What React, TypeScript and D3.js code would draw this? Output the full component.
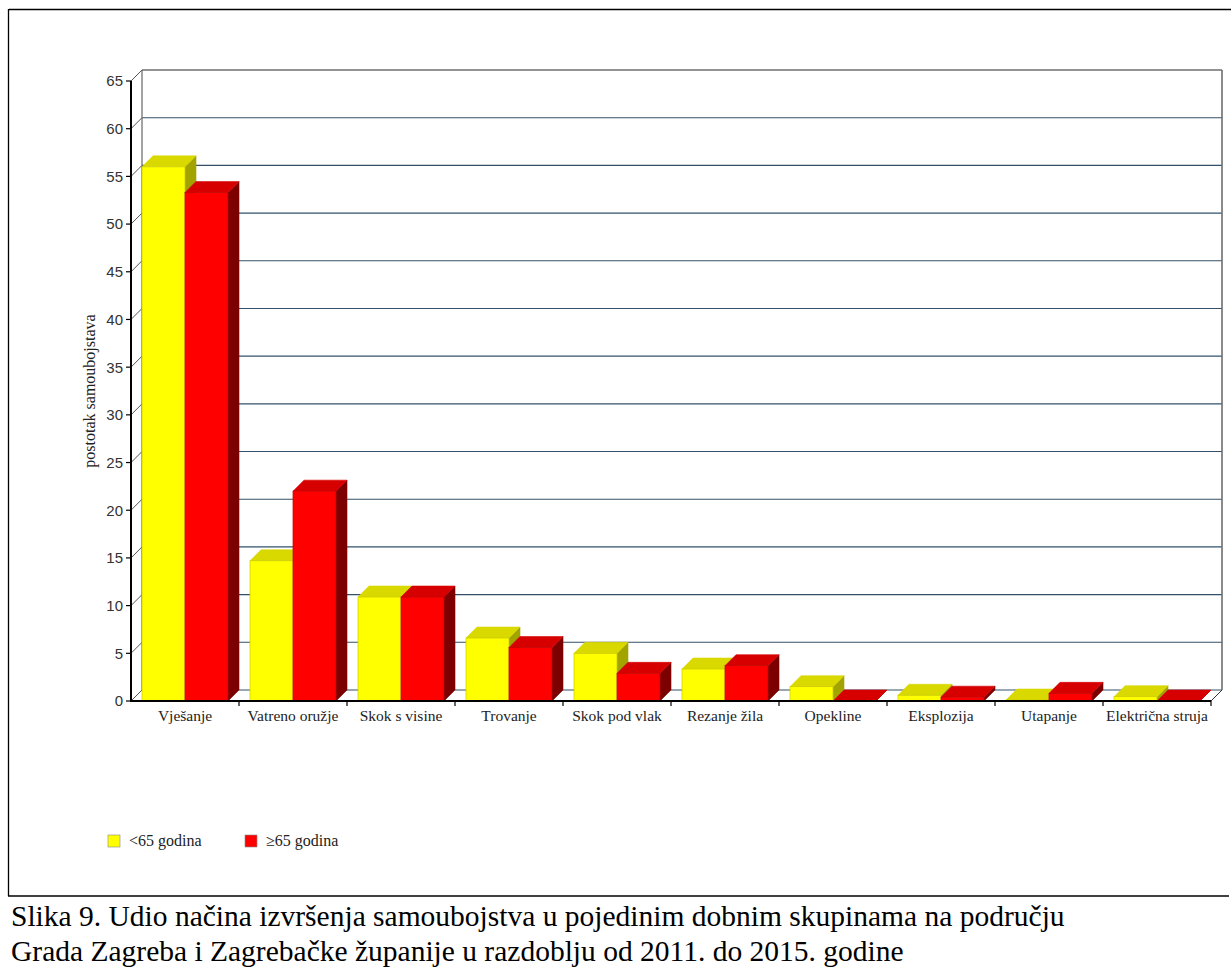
import React from "react";
import * as d3 from "d3";

const categories = [
  "Vješanje",
  "Vatreno oružje",
  "Skok s visine",
  "Trovanje",
  "Skok pod vlak",
  "Rezanje žila",
  "Opekline",
  "Eksplozija",
  "Utapanje",
  "Električna struja",
];
const seriesNames = ["<65 godina", "≥65 godina"];
const under65 = [56.0, 14.7, 10.9, 6.6, 5.0, 3.35, 1.5, 0.6, 0.1, 0.45];
const over65 = [53.3, 22.0, 10.9, 5.6, 2.9, 3.7, 0, 0.4, 0.8, 0];
const yTicks = [0, 5, 10, 15, 20, 25, 30, 35, 40, 45, 50, 55, 60, 65];
const yTitle = "postotak samoubojstava";
const captionLines = [
  "Slika 9. Udio načina izvršenja samoubojstva u pojedinim dobnim skupinama na području",
  "Grada Zagreba i Zagrebačke županije u razdoblju od 2011. do 2015. godine",
];

const W = 1231;
const H = 967;
const DX = 11;
const DY = -11;

const palettes = [
  { front: "#FFFF00", top: "#D9D900", side: "#A3A300", stroke: "#C8C800" },
  { front: "#FF0000", top: "#D60000", side: "#7D0000", stroke: "#C00000" },
];

export default function App() {
  const x = d3.scaleBand<string>().domain(categories).range([131, 1211]).paddingInner(0).paddingOuter(0);
  const sub = d3.scaleBand<string>().domain(seriesNames).range([11, 97]).paddingInner(0).paddingOuter(0);
  const y = d3.scaleLinear().domain([0, 65]).range([701, 81]);
  const xl = x.range()[0];
  const xr = x.range()[1];
  const data = [under65, over65];

  const bars: React.ReactNode[] = [];
  categories.forEach((c, i) => {
    seriesNames.forEach((s, si) => {
      const v = data[si][i];
      const p = palettes[si];
      const x0 = (x(c) as number) + (sub(s) as number);
      const x1 = x0 + sub.bandwidth();
      const yt = y(v);
      const yb = y(0);
      const top = `M${x0},${yt} L${x0 + DX},${yt + DY} L${x1 + DX},${yt + DY} L${x1},${yt} Z`;
      const side = `M${x1},${yt} L${x1 + DX},${yt + DY} L${x1 + DX},${yb + DY} L${x1},${yb} Z`;
      bars.push(
        <g key={`${c}-${s}`}>
          <path d={side} fill={p.side} stroke={p.side} strokeWidth={0.6} />
          <path d={top} fill={p.top} stroke={p.top} strokeWidth={0.6} />
          {v > 0 && (
            <rect x={x0} y={yt} width={x1 - x0} height={yb - yt} fill={p.front} stroke={p.stroke} strokeWidth={0.7} />
          )}
        </g>
      );
    });
  });

  return (
    <svg
      width={W}
      height={H}
      viewBox={`0 0 ${W} ${H}`}
      style={{ position: "absolute", left: 0, top: 0, background: "#fff" }}
    >
      <rect x={0} y={0} width={W} height={H} fill="#fff" />
      {/* outer frame */}
      <line x1={9} y1={9.5} x2={W} y2={9.5} stroke="#000" strokeWidth={1.3} />
      <line x1={8.5} y1={9} x2={8.5} y2={896} stroke="#000" strokeWidth={1.3} />
      <line x1={8} y1={896} x2={1229} y2={896} stroke="#000" strokeWidth={1.5} />

      {/* back wall gridlines */}
      {yTicks.map((t) => (
        <g key={`g${t}`}>
          <line
            x1={xl + DX}
            y1={y(t) + DY}
            x2={xr + DX}
            y2={y(t) + DY}
            stroke={t === 65 ? "#6e6e6e" : "#33506a"}
            strokeWidth={t === 65 ? 1.6 : 1.1}
          />
          <line x1={xl} y1={y(t)} x2={xl + DX} y2={y(t) + DY} stroke="#555" strokeWidth={1} />
        </g>
      ))}
      {/* left back wall edge */}
      <line x1={xl + DX} y1={y(65) + DY} x2={xl + DX} y2={y(0) + DY} stroke="#666" strokeWidth={1.2} />
      {/* right back wall edge */}
      <line x1={xr + DX} y1={y(65) + DY} x2={xr + DX} y2={y(0) + DY} stroke="#6e6e6e" strokeWidth={1.6} />
      {/* floor right diagonal */}
      <line x1={xr} y1={y(0)} x2={xr + DX} y2={y(0) + DY} stroke="#333" strokeWidth={1} />

      {bars}

      {/* y axis */}
      <line x1={xl} y1={y(65)} x2={xl} y2={y(0) + 1} stroke="#000" strokeWidth={2} />
      {yTicks.map((t) => (
        <g key={`t${t}`}>
          <line x1={xl - 5} y1={y(t)} x2={xl} y2={y(t)} stroke="#000" strokeWidth={1.2} />
          <text
            x={xl - 8}
            y={y(t)}
            dy="0.36em"
            textAnchor="end"
            fontFamily="'Liberation Sans', Arial, sans-serif"
            fontSize={15}
            fill="#333"
          >
            {t}
          </text>
        </g>
      ))}
      {/* x axis */}
      <line x1={xl - 1} y1={y(0)} x2={xr} y2={y(0)} stroke="#000" strokeWidth={2} />
      {categories.map((c) => (
        <line key={`xt${c}`} x1={(x(c) as number) + x.bandwidth()} y1={y(0)} x2={(x(c) as number) + x.bandwidth()} y2={y(0) + 5} stroke="#000" strokeWidth={1.2} />
      ))}
      {categories.map((c) => (
        <text
          key={`xl${c}`}
          x={(x(c) as number) + x.bandwidth() / 2}
          y={721}
          textAnchor="middle"
          fontFamily="'Liberation Serif', 'Times New Roman', serif"
          fontSize={15.5}
          fill="#222"
        >
          {c}
        </text>
      ))}

      {/* y title */}
      <text
        transform={`translate(95, ${(y(0) + y(65)) / 2}) rotate(-90)`}
        textAnchor="middle"
        fontFamily="'Liberation Serif', 'Times New Roman', serif"
        fontSize={16}
        fill="#222"
      >
        {yTitle}
      </text>

      {/* legend */}
      {seriesNames.map((s, i) => {
        const lx = i === 0 ? 108 : 245;
        return (
          <g key={`lg${s}`}>
            <rect x={lx} y={835} width={12} height={12} fill={palettes[i].front} stroke="#888" strokeWidth={0.6} />
            <text
              x={lx + 21}
              y={846}
              fontFamily="'Liberation Serif', 'Times New Roman', serif"
              fontSize={16}
              fill="#222"
            >
              {s}
            </text>
          </g>
        );
      })}

      {/* caption */}
      {captionLines.map((l, i) => (
        <text
          key={`cap${i}`}
          x={11}
          y={926 + i * 35}
          fontFamily="'Liberation Serif', 'Times New Roman', serif"
          fontSize={29.5}
          fill="#000"
        >
          {l}
        </text>
      ))}
    </svg>
  );
}
